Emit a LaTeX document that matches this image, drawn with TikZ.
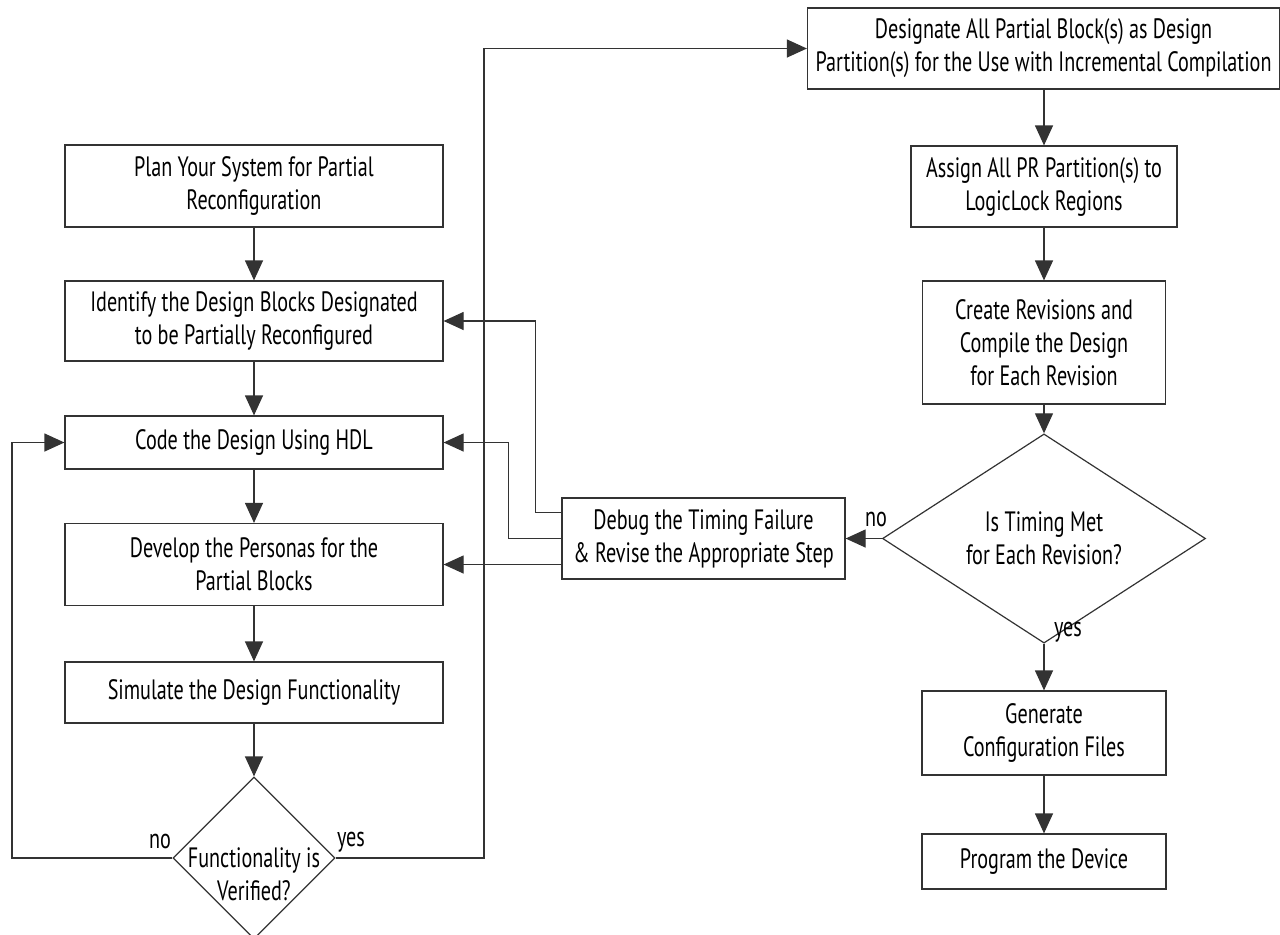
\documentclass[tikz,border=0pt]{standalone}
\usepackage{fontspec}
\setmainfont{PT Sans}[FakeStretch=0.72]
\usepackage{tikz}
\usetikzlibrary{
    positioning,
    arrows.meta,
    shapes.geometric,
}
\tikzset{
    % Basic node styles
    stepbox/.style={rectangle, draw=black!80, line width=0.6pt, align=center,
                    font=\fontsize{14}{16.5}\selectfont, inner sep=2pt},
    decision/.style={diamond, draw=black!80, line width=0.6pt, inner sep=0pt},
    tag/.style={font=\fontsize{14}{16.5}\selectfont, inner sep=0pt},
    % Arrow styles
    arrow/.style={-{Triangle[length=10pt, width=9pt]}, draw=black!80, line width=0.6pt},
}

\begin{document}
\begin{tikzpicture}[x=0.5pt, y=-0.5pt]
    \useasboundingbox (0,0) rectangle (1280,934);

    % Left column
    \node[stepbox, minimum width=189pt, minimum height=41pt] (plan) at (254,186)
        {Plan Your System for Partial\\Reconfiguration};
    \node[stepbox, minimum width=189pt, minimum height=40pt] (identify) at (254,321)
        {Identify the Design Blocks Designated\\to be Partially Reconfigured};
    \node[stepbox, minimum width=189pt, minimum height=26.5pt] (code) at (254,442.5)
        {Code the Design Using HDL};
    \node[stepbox, minimum width=189pt, minimum height=41pt] (develop) at (254,564.5)
        {Develop the Personas for the\\Partial Blocks};
    \node[stepbox, minimum width=189pt, minimum height=30.5pt] (simulate) at (254,692.5)
        {Simulate the Design Functionality};
    \node[decision, minimum width=81pt, minimum height=81pt] (verified) at (254,858) {};
    \node[align=center, font=\fontsize{14}{16.5}\selectfont, inner sep=0pt] (verifiedtext) at (254,874)
        {Functionality is\\Verified?};

    % Right column
    \node[stepbox, minimum width=236pt, minimum height=40.5pt] (designate) at (1043.5,48.5)
        {Designate All Partial Block(s) as Design\\Partition(s) for the Use with Incremental Compilation};
    \node[stepbox, minimum width=133pt, minimum height=40.5pt] (assign) at (1044,186.5)
        {Assign All PR Partition(s) to\\LogicLock Regions};
    \node[stepbox, minimum width=121.5pt, minimum height=61.5pt] (create) at (1044,342.5)
        {Create Revisions and\\Compile the Design\\for Each Revision};
    \node[decision, minimum width=161.5pt, minimum height=80.5pt, align=center,
          font=\fontsize{14}{16.5}\selectfont] (timing) at (1044,538.5)
        {Is Timing Met\\for Each Revision?};
    \node[stepbox, minimum width=122pt, minimum height=42pt] (generate) at (1044,733)
        {Generate\\Configuration Files};
    \node[stepbox, minimum width=122pt, minimum height=27.5pt] (program) at (1044,861.5)
        {Program the Device};

    % Debug step
    \node[stepbox, minimum width=141.5pt, minimum height=40.5pt] (debug) at (703.5,538.5)
        {Debug the Timing Failure\\\& Revise the Appropriate Step};

    % Labels
    \node[tag] (noleft) at (160,841) {no};
    \node[tag] (yesleft) at (351,842) {yes};
    \node[tag] (noright) at (876,519) {no};
    \node[tag] (yesright) at (1068,632) {yes};

    % Loop corners
    \coordinate (noloop) at (12,858);
    \coordinate (yesloop) at (484,858);

    % Arrows
    \draw[arrow] (plan) -- (identify);
    \draw[arrow] (identify) -- (code);
    \draw[arrow] (code) -- (develop);
    \draw[arrow] (develop) -- (simulate);
    \draw[arrow] (simulate) -- (verified.north);
    \draw[arrow] (verified.west) -- (noloop) |- (code.west);
    \draw[arrow] (verified.east) -- (yesloop) |- (designate.west);
    \draw[arrow] (designate.south -| assign) -- (assign);
    \draw[arrow] (assign) -- (create);
    \draw[arrow] (create) -- (timing.north);
    \draw[arrow] (timing.south) -- (generate);
    \draw[arrow] (generate) -- (program);
    \draw[arrow] (timing.west) -- (debug.east);
    \draw[arrow] ([yshift=13pt]debug.west) -- ++(-26,0) |- (identify.east);
    \draw[arrow] (debug.west) -- ++(-53,0) |- (code.east);
    \draw[arrow] ([yshift=-13pt]debug.west) -- (develop.east);
\end{tikzpicture}
\end{document}
